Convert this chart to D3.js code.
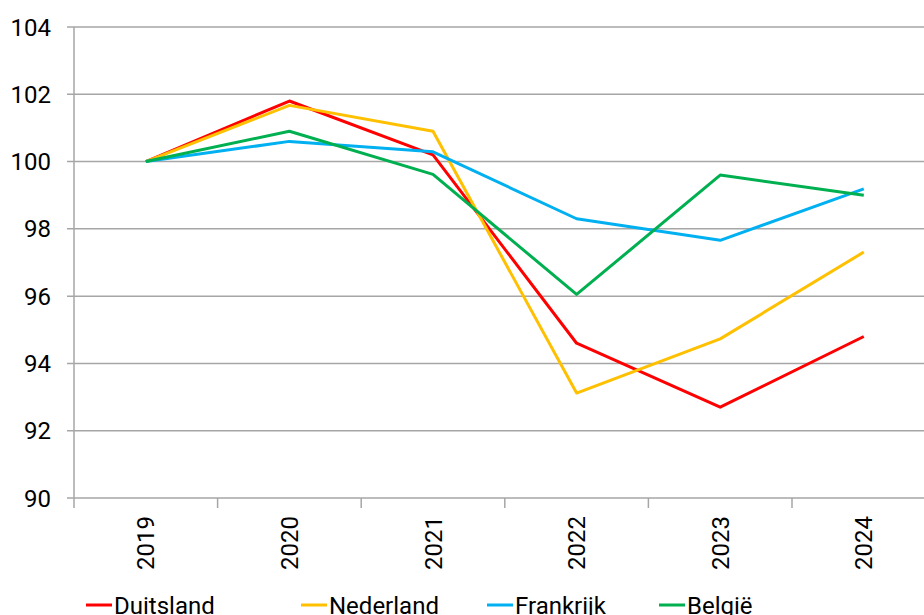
<!DOCTYPE html>
<html lang="nl">
<head>
	<meta charset="utf-8">
	<title>Index 2019 = 100</title>
	<script src="https://d3js.org/d3.v7.min.js"></script>
	<style type="text/css">
		body {
			margin: 0;
			font-family: Roboto, "Noto Sans", sans-serif;
			background: #fff;
		}

		.grid line {
			stroke: #a6a6a6;
			stroke-width: 1.5;
		}

		.axis text,
		.legend text {
			font-family: Roboto, sans-serif;
			font-size: 24px;
			fill: #000;
		}

		.series {
			fill: none;
			stroke-width: 3;
			stroke-linejoin: round;
		}
	</style>
</head>
<body>
	<div id="vis"></div>

	<script type="text/javascript">

		/* Data */
		/* ==== */

		var years = ['2019', '2020', '2021', '2022', '2023', '2024'];
		var yTicks = [90, 92, 94, 96, 98, 100, 102, 104];

		var duitsland = [100, 101.8, 100.2, 94.6, 92.7, 94.8];
		var nederland = [100, 101.67, 100.9, 93.12, 94.73, 97.31];
		var frankrijk = [100, 100.6, 100.29, 98.3, 97.66, 99.19];
		var belgie = [100, 100.9, 99.62, 96.05, 99.6, 99.0];

		var seriesNames = ['Duitsland', 'Nederland', 'Frankrijk', 'België'];
		var seriesColors = ['#ff0000', '#ffc000', '#00b0f0', '#00b050'];
		var seriesValues = [duitsland, nederland, frankrijk, belgie];


		/* Set up */
		/* ====== */

		var width = 924, height = 615;
		var plotLeft = 74, plotTop = 27, plotBottom = 498;
		var step = 143.6;

		var svg = d3.select('#vis')
			.append('svg')
			.attr('width', width)
			.attr('height', height);

		var xBand = d3.scaleBand()
			.domain(years)
			.range([plotLeft, plotLeft + step * years.length]);

		var yScale = d3.scaleLinear()
			.domain([90, 104])
			.range([plotBottom, plotTop]);


		/* Grid and axes */
		/* ============= */

		var grid = svg.append('g').attr('class', 'grid');

		grid.selectAll('.h')
			.data(yTicks).enter()
			.append('line')
			.attr('class', 'h')
			.attr('x1', plotLeft - 7)
			.attr('x2', width)
			.attr('y1', function (d) { return yScale(d); })
			.attr('y2', function (d) { return yScale(d); });

		// vertical axis line
		grid.append('line')
			.attr('x1', plotLeft).attr('x2', plotLeft)
			.attr('y1', yScale(104)).attr('y2', plotBottom + 10);

		// category tick marks below the axis
		grid.selectAll('.v')
			.data(years.slice(1)).enter()
			.append('line')
			.attr('class', 'v')
			.attr('x1', function (d) { return xBand(d); })
			.attr('x2', function (d) { return xBand(d); })
			.attr('y1', plotBottom)
			.attr('y2', plotBottom + 10);

		var yAxis = svg.append('g').attr('class', 'axis');
		yAxis.selectAll('text')
			.data(yTicks).enter()
			.append('text')
			.attr('x', 51)
			.attr('y', function (d) { return yScale(d); })
			.attr('dy', '0.36em')
			.attr('text-anchor', 'end')
			.text(function (d) { return d; });

		var xAxis = svg.append('g').attr('class', 'axis');
		xAxis.selectAll('text')
			.data(years).enter()
			.append('text')
			.attr('transform', function (d) {
				return 'translate(' + (xBand(d) + xBand.bandwidth() / 2) + ',' + (plotBottom + 18) + ') rotate(-90)';
			})
			.attr('dy', '0.36em')
			.attr('text-anchor', 'end')
			.text(function (d) { return d; });


		/* Lines */
		/* ===== */

		var line = d3.line()
			.x(function (d, i) { return xBand(years[i]) + xBand.bandwidth() / 2; })
			.y(function (d) { return yScale(d); });

		svg.append('g').selectAll('.series')
			.data(seriesValues).enter()
			.append('path')
			.attr('class', 'series')
			.attr('stroke', function (d, i) { return seriesColors[i]; })
			.attr('d', line);


		/* Legend */
		/* ====== */

		var legendX = [86, 301, 487, 659];

		var legend = svg.append('g').attr('class', 'legend')
			.selectAll('g')
			.data(seriesNames).enter()
			.append('g')
			.attr('transform', function (d, i) { return 'translate(' + legendX[i] + ',605)'; });

		legend.append('line')
			.attr('x1', 0).attr('x2', 26)
			.attr('y1', 0).attr('y2', 0)
			.attr('stroke', function (d, i) { return seriesColors[i]; })
			.attr('stroke-width', 3);

		legend.append('text')
			.attr('x', 28)
			.attr('y', 9)
			.text(function (d) { return d; });

	</script>
</body>
</html>
